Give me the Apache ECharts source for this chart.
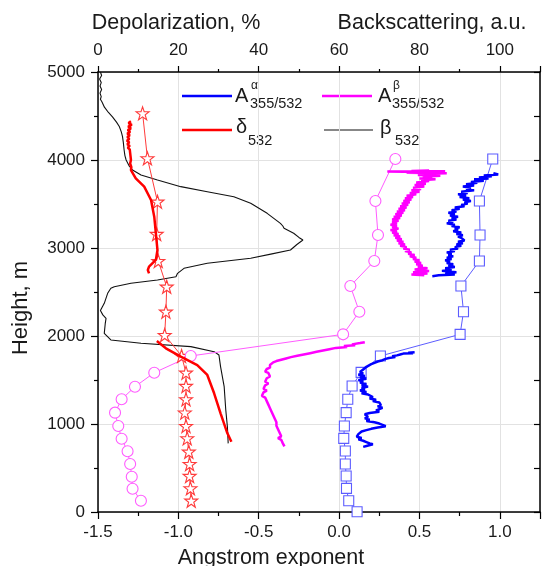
<!DOCTYPE html>
<html><head><meta charset="utf-8">
<script src="https://cdn.jsdelivr.net/npm/echarts@6/dist/echarts.min.js"></script>
<style>html,body{margin:0;padding:0;background:#fff}#c{width:543px;height:566px}</style>
</head><body><div id="c"></div>
<script>
// ---------- data: [value, height m] ----------
// beta_532 backscattering (top axis, a.u.)
const beta532 = [[0.6,5000],[0.9,4960],[0.4,4920],[0.8,4880],[0.5,4840],[0.9,4800],[0.5,4760],[0.8,4720],[0.6,4690],[1.0,4660],[1.6,4600],[2.6,4540],[3.6,4490],[4.6,4430],[5.3,4380],[5.8,4320],[6.1,4265],[6.3,4200],[6.5,4114],[6.7,4050],[7.0,4000],[7.8,3930],[8.6,3886],[10.7,3830],[14.8,3773],[20.6,3697],[27.2,3640],[33.8,3583],[38,3508],[42.1,3394],[45.4,3280],[46.0,3250],[46.3,3224],[48.7,3167],[50,3120],[51,3091],[49.5,3040],[47.9,2977],[43,2930],[38,2883],[27.2,2826],[21.4,2769],[19.8,2712],[19.4,2674],[14.8,2636],[8.2,2599],[4.05,2560],[3.2,2542],[2.4,2485],[1.56,2371],[0.6,2290],[0.57,2276],[1.2,2240],[2.0,2201],[1.8,2140],[1.56,2030],[3.2,1955],[10.7,1917],[23.1,1879],[28.9,1822],[30.1,1784],[30.5,1652],[31.4,1424],[31.8,1159],[32.2,970],[32.4,780]];
// delta_532 depolarization (top axis, %)
const delta532 = [[8.2,4440],[7.6,4420],[8.4,4400],[7.5,4380],[8.2,4360],[7.4,4340],[8.0,4320],[7.3,4300],[7.9,4280],[7.3,4260],[7.8,4240],[7.2,4220],[7.8,4200],[7.3,4180],[7.9,4160],[7.4,4140],[7.9,4120],[7.5,4100],[8.0,4080],[7.6,4060],[8.1,4040],[7.8,4020],[8.2,4000],[8.0,3960],[8.3,3920],[8.2,3886],[9.4,3792],[11.5,3697],[13.2,3545],[14.0,3356],[14.4,3167],[14.8,2977],[14.4,2864],[12.7,2788],[12.4,2750],[12.7,2712],null,[14.65,1943],[16.9,1860],[20.6,1765],[24.7,1670],[27.2,1557],[28.9,1349],[30.5,1121],[32.2,894],[33.2,799]];
// depolarization with star markers (top axis, %)
const deltaStars = [[11.1,4530],[12.3,4019],[14.8,3526],[14.6,3159],[15.0,2852],[17.1,2560],[16.9,2276],[16.6,2011],[20.8,1773],[21.9,1583],[21.9,1432],[21.9,1281],[21.6,1129],[21.9,977],[22.2,837],[22.6,685],[22.8,545],[22.8,409],[23.0,269],[23.2,128]];
// A^beta with circle markers (bottom axis)
const betaCircles = [[0.350,4011],[0.226,3534],[0.242,3148],[0.219,2852],[0.070,2568],[0.126,2276],[0.025,2019],[-0.923,1773],[-1.15,1583],[-1.27,1424],[-1.353,1281],[-1.394,1129],[-1.374,977],[-1.353,833],[-1.316,690],[-1.30,545],[-1.29,401],[-1.285,265],[-1.233,128]];
// A^alpha with square markers (bottom axis)
const alphaSquares = [[0.956,4011],[0.873,3534],[0.877,3148],[0.873,2852],[0.758,2568],[0.774,2276],[0.753,2019],[0.257,1773],[0.137,1587],[0.081,1432],[0.054,1281],[0.044,1129],[0.033,977],[0.029,837],[0.039,693],[0.039,545],[0.044,409],[0.046,269],[0.060,128],[0.112,3]];
// A^alpha_355/532 profile (bottom axis)
const alphaProfile = [[0.96,3850],[0.99,3835],[0.90,3825],[0.95,3815],[0.87,3800],[0.93,3790],[0.84,3780],[0.90,3765],[0.82,3750],[0.86,3740],[0.79,3725],[0.84,3710],[0.77,3700],[0.82,3685],[0.79,3670],[0.84,3655],[0.76,3640],[0.80,3625],[0.74,3610],[0.79,3595],[0.75,3580],[0.81,3565],[0.77,3550],[0.82,3535],[0.78,3520],[0.80,3505],[0.76,3490],[0.78,3475],[0.72,3460],[0.75,3445],[0.70,3430],[0.73,3415],[0.68,3400],[0.72,3385],[0.69,3370],[0.74,3355],[0.70,3340],[0.73,3325],[0.68,3310],[0.71,3295],[0.67,3280],[0.72,3265],[0.70,3250],[0.75,3235],[0.72,3220],[0.74,3205],[0.71,3190],[0.76,3175],[0.73,3160],[0.77,3145],[0.74,3130],[0.76,3115],[0.75,3100],[0.78,3085],[0.74,3070],[0.77,3055],[0.73,3040],[0.76,3025],[0.72,3010],[0.74,2995],[0.69,2980],[0.72,2965],[0.67,2950],[0.70,2935],[0.68,2920],[0.71,2905],[0.67,2890],[0.70,2875],[0.66,2860],[0.69,2845],[0.67,2830],[0.71,2815],[0.68,2800],[0.72,2785],[0.66,2770],[0.70,2755],[0.64,2740],[0.73,2725],[0.66,2710],[0.72,2700],[0.62,2690],[0.58,2680],null,
[0.47,1815],[0.43,1810],[0.46,1805],[0.40,1800],[0.38,1790],[0.36,1780],[0.33,1770],[0.35,1760],[0.31,1750],[0.29,1740],[0.27,1725],[0.24,1710],[0.22,1695],[0.20,1680],[0.19,1665],[0.17,1650],[0.18,1635],[0.15,1620],[0.16,1605],[0.13,1590],[0.15,1575],[0.12,1560],[0.16,1545],[0.13,1530],[0.17,1515],[0.12,1500],[0.15,1485],[0.13,1470],[0.17,1455],[0.14,1440],[0.18,1425],[0.14,1410],[0.16,1395],[0.13,1380],[0.17,1365],[0.14,1350],[0.18,1335],[0.17,1320],[0.21,1305],[0.19,1290],[0.23,1275],[0.21,1260],[0.25,1245],[0.24,1230],[0.26,1215],[0.24,1200],[0.27,1185],[0.25,1170],[0.23,1155],[0.25,1140],[0.19,1125],[0.16,1110],[0.15,1095],[0.18,1080],[0.16,1065],[0.19,1050],[0.17,1035],[0.22,1020],[0.25,1005],[0.27,990],[0.29,975],[0.24,960],[0.20,945],[0.17,930],[0.14,915],[0.15,900],[0.12,885],[0.13,870],[0.11,855],[0.14,840],[0.12,825],[0.15,810],[0.17,795],[0.19,780],[0.21,770],[0.20,760],[0.17,750],[0.15,740]];
// A^beta_355/532 profile (bottom axis)
const betaProfile = [[0.56,3880],[0.45,3875],[0.66,3872],[0.30,3868],[0.50,3865],[0.62,3860],[0.42,3855],[0.67,3850],[0.52,3845],[0.60,3840],[0.49,3830],[0.63,3820],[0.52,3810],[0.58,3800],[0.50,3790],[0.60,3780],[0.51,3770],[0.56,3760],[0.48,3745],[0.54,3730],[0.47,3715],[0.53,3700],[0.46,3685],[0.51,3670],[0.45,3655],[0.50,3640],[0.44,3625],[0.48,3610],[0.42,3595],[0.46,3580],[0.41,3565],[0.45,3550],[0.40,3535],[0.44,3520],[0.39,3505],[0.43,3490],[0.38,3475],[0.42,3460],[0.37,3445],[0.41,3430],[0.36,3415],[0.40,3400],[0.35,3385],[0.39,3370],[0.34,3355],[0.38,3340],[0.33,3325],[0.37,3310],[0.33,3295],[0.36,3280],[0.32,3265],[0.36,3250],[0.33,3235],[0.37,3220],[0.32,3205],[0.36,3190],[0.33,3175],[0.37,3160],[0.34,3145],[0.38,3130],[0.35,3115],[0.39,3100],[0.36,3085],[0.40,3070],[0.37,3055],[0.41,3040],[0.38,3025],[0.42,3010],[0.40,2995],[0.44,2980],[0.41,2965],[0.45,2950],[0.43,2935],[0.47,2920],[0.44,2905],[0.48,2890],[0.46,2875],[0.50,2860],[0.47,2845],[0.51,2830],[0.48,2815],[0.52,2800],[0.49,2785],[0.55,2770],[0.47,2755],[0.56,2740],[0.46,2725],[0.55,2710],[0.45,2700],[0.53,2690],null,
[0.16,1930],[0.13,1920],[0.08,1905],[0.10,1895],[0.03,1885],[0.05,1875],[-0.02,1865],[-0.06,1850],[-0.10,1835],[-0.14,1820],[-0.18,1805],[-0.22,1790],[-0.26,1775],[-0.30,1760],[-0.33,1745],[-0.36,1730],[-0.39,1715],[-0.41,1700],[-0.42,1685],[-0.43,1670],[-0.44,1655],[-0.43,1640],[-0.45,1625],[-0.44,1610],[-0.46,1595],[-0.44,1580],[-0.45,1560],[-0.43,1540],[-0.45,1520],[-0.44,1500],[-0.46,1480],[-0.44,1460],[-0.46,1440],[-0.45,1420],[-0.47,1400],[-0.45,1380],[-0.47,1360],[-0.46,1340],[-0.48,1320],[-0.46,1300],[-0.47,1280],[-0.45,1260],[-0.46,1240],[-0.44,1220],[-0.45,1200],[-0.43,1180],[-0.44,1160],[-0.42,1140],[-0.43,1120],[-0.41,1100],[-0.42,1080],[-0.40,1060],[-0.41,1040],[-0.39,1020],[-0.40,1000],[-0.39,980],[-0.40,960],[-0.38,940],[-0.39,920],[-0.37,900],[-0.38,880],[-0.36,860],[-0.38,840],[-0.36,820],[-0.37,800],[-0.35,780],[-0.36,760],[-0.34,745]];

const angstromTicks = [-1.5, 1.25, 0.5];   // min, max, interval
const topTicks = [0, 110, 20];
const heightTicks = [0, 5000, 1000];

const FONT = 'Liberation Sans, Arial, Helvetica, sans-serif';
const TXT = '#1a1a1a';
const STAR = 'path://M50,2 L61.5,36 L97,36 L68.5,57.5 L79.5,92 L50,71 L20.5,92 L31.5,57.5 L3,36 L38.5,36 Z';

const chart = echarts.init(document.getElementById('c'), null, {renderer: 'canvas'});
const axisLine = {show: true, onZero: false, lineStyle: {color: '#000', width: 1.5}};
const split = {show: true, lineStyle: {color: '#e2e2e2', width: 1}};

function sub(x, y, s, size) {
  return {type: 'text', x: x, y: y, style: {text: s, font: size + 'px ' + FONT, fill: TXT, textAlign: 'left', textVerticalAlign: 'middle'}};
}
function lline(x1, x2, y, color, w) {
  return {type: 'line', shape: {x1: x1, y1: y, x2: x2, y2: y}, style: {stroke: color, lineWidth: w}};
}

chart.setOption({
  animation: false,
  backgroundColor: '#fff',
  grid: {left: 98, right: 3, top: 72, bottom: 54, containLabel: false},
  xAxis: [
    {type: 'value', position: 'bottom', min: angstromTicks[0], max: angstromTicks[1], interval: angstromTicks[2],
     axisLine: axisLine, axisTick: {show: true, inside: false, length: 7, lineStyle: {color: '#000', width: 1.2}},
     minorTick: {show: true, splitNumber: 2, length: 4, lineStyle: {color: '#000', width: 1.2}},
     axisLabel: {fontSize: 17, fontFamily: FONT, color: TXT, margin: 12, showMaxLabel: false, formatter: v => v.toFixed(1)},
     splitLine: split},
    {type: 'value', position: 'top', min: topTicks[0], max: topTicks[1], interval: topTicks[2],
     axisLine: axisLine, axisTick: {show: true, inside: false, length: 6, lineStyle: {color: '#000', width: 1.2}},
     minorTick: {show: true, splitNumber: 2, length: 3, lineStyle: {color: '#000', width: 1.2}},
     axisLabel: {fontSize: 17, fontFamily: FONT, color: TXT, margin: 13, showMaxLabel: false, formatter: v => String(v)},
     splitLine: {show: false}}
  ],
  yAxis: [
    {type: 'value', position: 'left', min: heightTicks[0], max: heightTicks[1], interval: heightTicks[2],
     axisLine: axisLine, axisTick: {show: true, inside: false, length: 7, lineStyle: {color: '#000', width: 1.2}},
     minorTick: {show: true, splitNumber: 2, length: 4, lineStyle: {color: '#000', width: 1.2}},
     axisLabel: {fontSize: 17, fontFamily: FONT, color: TXT, margin: 13, formatter: v => String(v)},
     splitLine: split},
    {type: 'value', position: 'right', min: heightTicks[0], max: heightTicks[1], interval: heightTicks[2] / 2,
     axisLine: axisLine, axisTick: {show: true, inside: true, length: 6, lineStyle: {color: '#000', width: 1.2}},
     axisLabel: {show: false}, splitLine: {show: false}}
  ],
  series: [
    {name: 'β532', type: 'line', xAxisIndex: 1, yAxisIndex: 0, data: beta532, symbol: 'none',
     lineStyle: {color: '#111', width: 1.1}, itemStyle: {color: '#111'}, z: 3},
    {name: 'stars', type: 'line', xAxisIndex: 1, yAxisIndex: 0, data: deltaStars, symbol: STAR, symbolSize: 13,
     lineStyle: {color: '#ff3b3b', width: 1}, itemStyle: {color: '#ffffff', borderColor: '#ff3b3b', borderWidth: 1.1}, z: 4},
    {name: 'circles', type: 'line', xAxisIndex: 0, yAxisIndex: 0, data: betaCircles, symbol: 'circle', symbolSize: 11,
     lineStyle: {color: '#ff5cff', width: 1}, itemStyle: {color: '#ffffff', borderColor: '#ff5cff', borderWidth: 1.1}, z: 4},
    {name: 'squares', type: 'line', xAxisIndex: 0, yAxisIndex: 0, data: alphaSquares, symbol: 'rect', symbolSize: 10,
     lineStyle: {color: '#5c5cff', width: 1}, itemStyle: {color: '#ffffff', borderColor: '#5c5cff', borderWidth: 1.1}, z: 4},
    {name: 'δ532', type: 'line', xAxisIndex: 1, yAxisIndex: 0, data: delta532, symbol: 'none', connectNulls: false,
     lineStyle: {color: '#ff0000', width: 2.5}, itemStyle: {color: '#ff0000'}, z: 5},
    {name: 'Aα', type: 'line', xAxisIndex: 0, yAxisIndex: 0, data: alphaProfile, symbol: 'none', connectNulls: false,
     lineStyle: {color: '#0000ff', width: 2.5}, itemStyle: {color: '#0000ff'}, z: 5},
    {name: 'Aβ', type: 'line', xAxisIndex: 0, yAxisIndex: 0, data: betaProfile, symbol: 'none', connectNulls: false,
     lineStyle: {color: '#ff00ff', width: 2.5}, itemStyle: {color: '#ff00ff'}, z: 5}
  ],
  graphic: [
    {type: 'text', x: 176, y: 23, style: {text: 'Depolarization, %', font: '21.5px ' + FONT, fill: TXT, textAlign: 'center', textVerticalAlign: 'middle'}},
    {type: 'text', x: 432, y: 23, style: {text: 'Backscattering, a.u.', font: '21.5px ' + FONT, fill: TXT, textAlign: 'center', textVerticalAlign: 'middle'}},
    {type: 'text', x: 271, y: 558, style: {text: 'Angstrom exponent', font: '21.5px ' + FONT, fill: TXT, textAlign: 'center', textVerticalAlign: 'middle'}},
    {type: 'text', x: 21, y: 308, rotation: Math.PI / 2, style: {text: 'Height, m', font: '22px ' + FONT, fill: TXT, textAlign: 'center', textVerticalAlign: 'middle'}},
    // legend
    lline(182, 232, 96, '#0000ff', 2.5),
    sub(235, 96, 'A', 20), sub(251, 86, 'α', 12), sub(250, 104, '355/532', 14.5),
    lline(322, 372, 96, '#ff00ff', 2.5),
    sub(378, 96, 'A', 20), sub(393, 86, 'β', 12), sub(392, 104, '355/532', 14.5),
    lline(182, 232, 130, '#ff0000', 2.5),
    sub(236, 127, 'δ', 20), sub(248, 141, '532', 14.5),
    lline(324, 373, 130, '#111', 1.2),
    sub(380, 128, 'β', 20), sub(395, 141, '532', 14.5)
  ]
});
</script>
</body></html>
